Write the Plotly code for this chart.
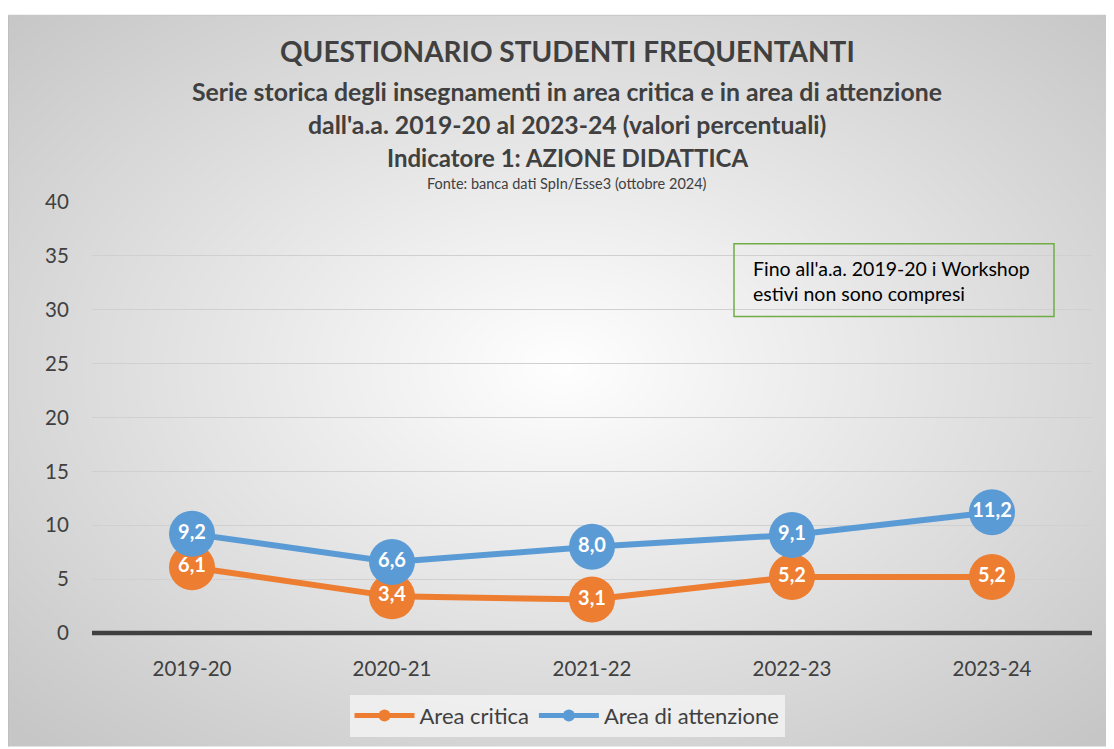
import base64, struct, zlib
import numpy as np
import plotly.graph_objects as go

categories = ["2019-20", "2020-21", "2021-22", "2022-23", "2023-24"]
area_critica = [6.1, 3.4, 3.1, 5.2, 5.2]
area_attenzione = [9.2, 6.6, 8.0, 9.1, 11.2]
y_ticks = [0, 5, 10, 15, 20, 25, 30, 35, 40]

ORANGE = "#ed7d31"
BLUE = "#5b9bd5"
FONT = "Lato"

# ---- radial gradient background as PNG data URI ----
def make_png(w, h):
    yy, xx = np.mgrid[0:h, 0:w].astype(float)
    cx, cy = w * 0.5, h * 0.48
    t = np.sqrt(((xx - cx) / (w / 2)) ** 2 + ((yy - cy) / (h / 2)) ** 2) / np.sqrt(2)
    t = np.clip(t, 0, 1)
    v = (255 - (255 - 198) * t).astype(np.uint8)
    rgb = np.stack([v, v, v], axis=-1)
    raw = b"".join(b"\x00" + rgb[i].tobytes() for i in range(h))
    def chunk(tag, data):
        c = struct.pack(">I", len(data)) + tag + data
        return c + struct.pack(">I", zlib.crc32(tag + data) & 0xffffffff)
    png = b"\x89PNG\r\n\x1a\n"
    png += chunk(b"IHDR", struct.pack(">IIBBBBB", w, h, 8, 2, 0, 0, 0))
    png += chunk(b"IDAT", zlib.compress(raw, 9))
    png += chunk(b"IEND", b"")
    return "data:image/png;base64," + base64.b64encode(png).decode()

bg = make_png(553, 368)

def fmt(v):
    return f"{v:.1f}".replace(".", ",")

fig = go.Figure()
fig.add_trace(go.Scatter(
    x=categories, y=area_critica, name="Area critica",
    mode="lines+markers+text",
    line=dict(color=ORANGE, width=6),
    marker=dict(color=ORANGE, size=46),
    text=[fmt(v) for v in area_critica], textposition="middle center",
    textfont=dict(family=FONT, size=20, color="white", weight="bold"),
))
fig.add_trace(go.Scatter(
    x=categories, y=area_attenzione, name="Area di attenzione",
    mode="lines+markers+text",
    line=dict(color=BLUE, width=6),
    marker=dict(color=BLUE, size=46),
    text=[fmt(v) for v in area_attenzione], textposition="middle center",
    textfont=dict(family=FONT, size=20, color="white", weight="bold"),
))

OFF = 8  # page body margin
W, H = 1114 - OFF, 749 - OFF
L, T = 92 - OFF, 202 - OFF
R = W - (1092 - OFF)
B = H - (635 - OFF)
pw, ph = W - L - R, H - T - B

def px_x(px):  # reference screenshot x -> paper
    return (px - OFF - L) / pw

def px_y(py):  # reference screenshot y -> paper
    return (H - B - (py - OFF)) / ph

fig.add_layout_image(dict(
    source=bg, xref="paper", yref="paper",
    x=px_x(8), y=px_y(14), sizex=(W) / pw, sizey=(H - 6) / ph,
    xanchor="left", yanchor="top", sizing="stretch", layer="below",
))

# frame edges
fig.add_shape(type="line", xref="paper", yref="paper", x0=px_x(8.5), x1=px_x(8.5),
              y0=px_y(14), y1=px_y(749), line=dict(color="#bfbfbf", width=1))
fig.add_shape(type="line", xref="paper", yref="paper", x0=px_x(8), x1=px_x(1114),
              y0=px_y(14.5), y1=px_y(14.5), line=dict(color="#c8c8c8", width=1))
# zero line (paper ref so it is not clipped)
fig.add_shape(type="line", xref="paper", yref="paper", x0=0, x1=1, y0=0, y1=0,
              line=dict(color="#404040", width=4.5), layer="below")

title_lines = [
    ("QUESTIONARIO STUDENTI FREQUENTANTI", 28, 50),
    ("Serie storica degli insegnamenti in area critica e in area di attenzione", 24.8, 91),
    ("dall'a.a. 2019-20 al 2023-24 (valori percentuali)", 24.8, 124),
    ("Indicatore 1: AZIONE DIDATTICA", 24, 157),
]
for txt, sz, yc in title_lines:
    fig.add_annotation(text=f"<b>{txt}</b>", xref="paper", yref="paper",
                       x=px_x(567), y=px_y(yc), xanchor="center", yanchor="middle",
                       showarrow=False, font=dict(family=FONT, size=sz, color="#404040"))
fig.add_annotation(text="Fonte: banca dati SpIn/Esse3 (ottobre 2024)", xref="paper", yref="paper",
                   x=px_x(567), y=px_y(183), xanchor="center", yanchor="middle",
                   showarrow=False, font=dict(family=FONT, size=14.5, color="#404040"))

# note box
fig.add_shape(type="rect", xref="paper", yref="paper",
              x0=px_x(734), x1=px_x(1054), y0=px_y(317), y1=px_y(244),
              line=dict(color="#70ad47", width=1.5), fillcolor="rgba(0,0,0,0)")
fig.add_annotation(text="Fino all'a.a. 2019-20 i Workshop<br>estivi non sono compresi",
                   xref="paper", yref="paper", x=px_x(751), y=px_y(255),
                   xanchor="left", yanchor="top", align="left", showarrow=False,
                   font=dict(family=FONT, size=19.5, color="#000000"))

fig.update_layout(
    width=W, height=H,
    margin=dict(l=L, r=R, t=T, b=B),
    paper_bgcolor="white", plot_bgcolor="rgba(0,0,0,0)",
    font=dict(family=FONT, color="#404040"),
    showlegend=True,
    legend=dict(orientation="h", x=px_x(567), y=px_y(697), xanchor="center", yanchor="top",
                bgcolor="rgba(242,242,242,0.85)", font=dict(family=FONT, size=22, color="#404040"),
                itemsizing="constant", itemwidth=60),
)
fig.update_xaxes(type="category", range=[-0.5, 4.5], showgrid=False, zeroline=False,
                 showline=False, ticks="outside", ticklen=17, tickcolor="rgba(0,0,0,0)",
                 tickfont=dict(family=FONT, size=20.5, color="#404040"))
fig.update_yaxes(range=[0, 40], tickvals=y_ticks, showgrid=True, gridcolor="#d0d0d0",
                 gridwidth=1, zeroline=False, showline=False, ticks="outside", ticklen=18,
                 tickcolor="rgba(0,0,0,0)", tickfont=dict(family=FONT, size=20.5, color="#404040"))

fig.write_html("out.html")
